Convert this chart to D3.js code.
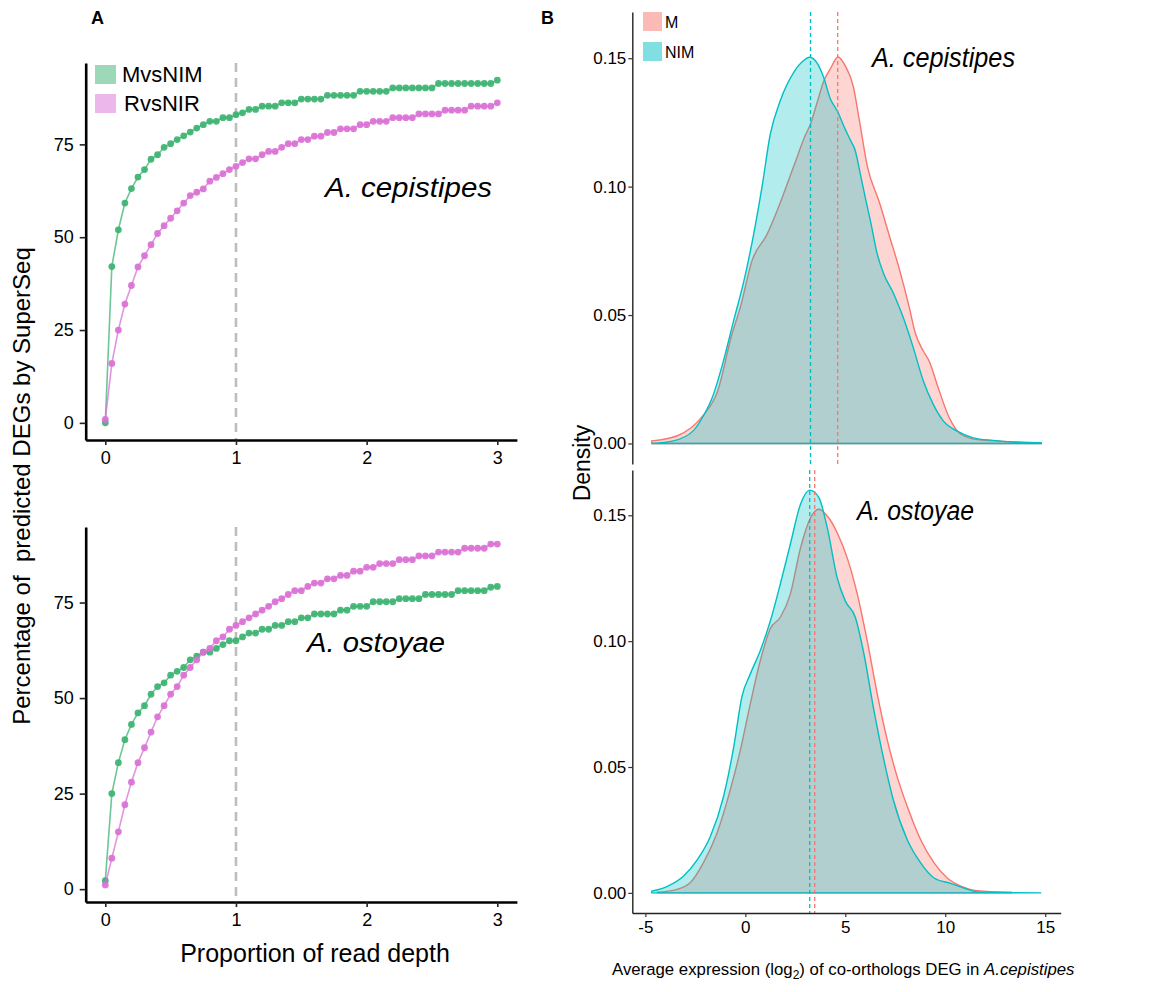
<!DOCTYPE html>
<html>
<head>
<meta charset="utf-8">
<script src="https://cdn.jsdelivr.net/npm/d3@7"></script>
<style>
  body { margin: 0; background: #fff; }
  text { font-family: "Liberation Sans", Arial, sans-serif; }
</style>
</head>
<body>
<svg id="chart" width="1171" height="992"></svg>
<script>
// ---- data: panel A (percentage of predicted DEGs vs proportion of read depth)
const depth = [0,0.05,0.1,0.15,0.2,0.25,0.3,0.35,0.4,0.45,0.5,0.55,0.6,0.65,0.7,0.75,0.8,0.85,0.9,0.95,
  1,1.05,1.1,1.15,1.2,1.25,1.3,1.35,1.4,1.45,1.5,1.55,1.6,1.65,1.7,1.75,1.8,1.85,1.9,1.95,
  2,2.05,2.1,2.15,2.2,2.25,2.3,2.35,2.4,2.45,2.5,2.55,2.6,2.65,2.7,2.75,2.8,2.85,2.9,2.95,3];

const cepMvsNIM = [0,42.1,52,59.2,63.1,66.2,68.2,71,72.2,74.2,75.2,76.3,77.3,78.3,79.4,80.3,81.2,81.2,82.2,82.2,
  83,83.5,84.4,84.4,85.3,85.3,85.3,86.2,86.2,86.2,87.2,87.2,87.2,87.2,88.2,88.2,88.2,88.2,88.2,89.3,
  89.3,89.3,89.3,89.3,90.2,90.2,90.2,90.2,90.2,90.2,90.2,91.4,91.4,91.4,91.4,91.4,91.4,91.4,91.4,91.4,92.3];
const cepRvsNIR = [0.9,16,25,32,37,42,45,48,51,53.1,55.1,57.1,59.2,61.2,62.1,63,65.1,66.1,67.1,68.2,
  69.1,70.1,71.1,71.1,72.2,73.1,73.1,74.2,75.2,75.2,76.3,76.3,77.2,77.2,78.2,78.2,79.2,79.2,79.2,80.3,
  80.3,81.2,81.2,81.2,82.2,82.2,82.2,82.2,83.2,83.2,83.2,83.2,84.2,84.2,84.2,84.2,85.3,85.3,85.3,85.3,86.2];
const ostMvsNIM = [2.2,25,33.1,39.1,43.1,46.1,48,51,53,54,56,57,58,60,61,62,62,63,64,65,
  65,66,67,67,68,68,69,69,70,70,71,71,72,72,72,72,73,73,74,74,
  74,75.2,75.2,75.2,75.2,76,76,76,76,77.1,77.1,77.1,77.1,77.1,78.1,78.1,78.1,78.1,78.1,79,79.2];
const ostRvsNIR = [1.1,8.1,15,22.1,28,33.1,37,41.1,45.1,48,51,53,56,58,60,62,63,65,66,68,
  69,70,71,72,73,74,75.2,76,77.1,78.1,78.1,79.2,80.1,80.1,81.2,81.2,82.1,82.1,83.2,83.2,
  84.2,84.2,85.2,85.2,85.2,86.2,86.2,86.2,87.2,87.2,87.2,88.2,88.2,88.2,88.2,89.2,89.2,89.2,89.2,90.3,90.3];

const depthTicks = [0, 1, 2, 3];
const pctTicks = [0, 25, 50, 75];
const seriesNames = ["MvsNIM", "RvsNIR"];

// ---- data: panel B (density of average expression), [x, density]
const cepM = [[-4.68,0.001],[-3.4,0.003],[-2.1,0.011],[-1.4,0.02],[-0.67,0.0425],[-0.25,0.053],[0.33,0.0711],
  [1.09,0.0815],[1.59,0.0906],[2.42,0.1079],[3.0,0.12],[3.26,0.1244],[3.6,0.133],[3.92,0.141],[4.26,0.146],
  [4.63,0.1505],[5.0,0.147],[5.4,0.139],[5.7,0.126],[6.1,0.108],[6.7,0.094],[7.2,0.081],[7.7,0.068],
  [8.2,0.053],[8.5,0.043],[8.9,0.036],[9.2,0.032],[9.6,0.0228],[10.2,0.01],[10.8,0.0035],[11.6,0.0015],
  [13.3,0.0007],[14.8,0.0003]];
const cepNIM = [[-4.68,0],[-3.6,0.001],[-2.6,0.005],[-2.1,0.0107],[-1.6,0.019],[-1.1,0.032],[-0.58,0.048],
  [-0.08,0.063],[0.33,0.078],[0.83,0.0997],[1.25,0.1205],[1.75,0.1335],[2.42,0.1445],[2.9,0.149],[3.22,0.1504],
  [3.6,0.148],[3.92,0.1425],[4.26,0.134],[4.6,0.1295],[4.93,0.1235],[5.26,0.118],[5.5,0.114],[5.75,0.105],
  [6.0,0.0957],[6.26,0.0866],[6.6,0.0737],[6.93,0.0659],[7.43,0.0581],[7.9,0.0490],[8.4,0.0373],
  [8.9,0.0244],[9.4,0.0152],[9.9,0.0088],[10.6,0.0048],[11.4,0.0022],[12.4,0.0012],[13.3,0.0006],[14.8,0.0003]];
const ostM = [[-4.4,0.0003],[-3.6,0.001],[-2.76,0.004],[-2.1,0.0119],[-1.42,0.0237],[-0.75,0.041],[-0.25,0.0567],
  [0.25,0.0752],[0.75,0.0923],[1.25,0.105],[1.75,0.1095],[2.25,0.1187],[2.76,0.137],[3.26,0.149],[3.68,0.1524],
  [4.1,0.1497],[4.6,0.143],[5.1,0.133],[5.6,0.1187],[6.1,0.1],[6.6,0.079],[7.1,0.0607],[7.6,0.046],
  [8.1,0.0343],[8.77,0.0211],[9.44,0.0119],[10.1,0.0059],[10.8,0.0026],[11.6,0.0009],[13.3,0.0003]];
const ostNIM = [[-4.68,0.0007],[-3.9,0.0026],[-3.1,0.0066],[-2.4,0.0132],[-1.75,0.0224],[-1.1,0.038],[-0.58,0.058],
  [-0.17,0.078],[0.25,0.087],[0.75,0.0963],[1.25,0.108],[1.75,0.1227],[2.25,0.1385],[2.76,0.1544],[3.22,0.16],
  [3.68,0.157],[4.1,0.145],[4.6,0.125],[5.0,0.116],[5.5,0.1095],[5.93,0.095],[6.43,0.0726],[6.93,0.0528],
  [7.4,0.037],[8.1,0.0211],[8.77,0.0119],[9.44,0.0059],[10.3,0.0037],[10.9,0.002],[11.6,0.0004],[13.0,0.0001],[14.8,0]];

const meanM = [4.62, 3.47];     // cepistipes, ostoyae
const meanNIM = [3.26, 3.22];
const exprTicks = [-5, 0, 5, 10, 15];
const densTicks = [0, 0.05, 0.10, 0.15];
const groupNames = ["M", "NIM"];

// ---- colours
const green = "#3CB371", pink = "#DA70D6";
const red = "#F8766D", cyan = "#00BFC4";

const svg = d3.select("#chart");

// ggplot-like 5% expansion
const expand = ext => { const s = ext[1] - ext[0]; return [ext[0] - 0.05 * s, ext[1] + 0.05 * s]; };
const plain = d => String(d);   // hyphen minus, no trailing decimals

// ================= panel A =================
const xL = d3.scaleLinear().domain(expand(d3.extent(depth))).range([85.7, 516.9]);

const leftPanels = [
  { top: 63, bottom: 440, m: cepMvsNIM, r: cepRvsNIR, label: "A. cepistipes", lx: 325, ly: 197, lw: 167 },
  { top: 527, bottom: 902, m: ostMvsNIM, r: ostRvsNIR, label: "A. ostoyae", lx: 307, ly: 652, lw: 138 }
];

leftPanels.forEach(p => {
  const y = d3.scaleLinear()
    .domain(expand(d3.extent(p.m.concat(p.r))))
    .range([p.bottom, p.top]);
  const g = svg.append("g");

  // dashed reference at full depth
  g.append("line")
    .attr("x1", xL(1)).attr("x2", xL(1))
    .attr("y1", p.top).attr("y2", p.bottom)
    .attr("stroke", "#bdbdbd").attr("stroke-width", 2.6)
    .attr("stroke-dasharray", "9,6");

  [[p.m, green], [p.r, pink]].forEach(([vals, col]) => {
    const pts = depth.map((d, i) => [d, vals[i]]);
    g.append("path")
      .datum(pts)
      .attr("fill", "none")
      .attr("stroke", col).attr("stroke-opacity", 0.75).attr("stroke-width", 1.6)
      .attr("d", d3.line().x(d => xL(d[0])).y(d => y(d[1])));
    g.selectAll(null).data(pts).enter().append("circle")
      .attr("cx", d => xL(d[0])).attr("cy", d => y(d[1]))
      .attr("r", 3.4).attr("fill", col).attr("fill-opacity", 0.92);
  });

  const ay = g.append("g").attr("transform", `translate(${xL.range()[0]},0)`)
    .call(d3.axisLeft(y).tickValues(pctTicks).tickFormat(plain).tickSize(6).tickPadding(6).tickSizeOuter(0));
  const ax = g.append("g").attr("transform", `translate(0,${p.bottom})`)
    .call(d3.axisBottom(xL).tickValues(depthTicks).tickFormat(plain).tickSize(5).tickPadding(6).tickSizeOuter(0));
  [ay, ax].forEach(a => {
    a.select(".domain").attr("stroke", "#000").attr("stroke-width", 2.6);
    a.selectAll(".tick line").attr("stroke", "#222").attr("stroke-width", 1.6);
    a.selectAll(".tick text").attr("font-size", 18).attr("fill", "#000")
      .attr("font-family", "Liberation Sans, Arial, sans-serif");
  });

  g.append("text")
    .attr("x", p.lx).attr("y", p.ly)
    .attr("font-size", 27).attr("font-style", "italic")
    .attr("textLength", p.lw).attr("lengthAdjust", "spacingAndGlyphs")
    .text(p.label);
});

// legend A
[[green, 65], [pink, 94]].forEach(([col, yy], i) => {
  svg.append("rect").attr("x", 95).attr("y", yy).attr("width", 21).attr("height", 19)
    .attr("fill", col).attr("fill-opacity", 0.5);
  svg.append("text").attr("x", i === 0 ? 122 : 124).attr("y", yy + 17)
    .attr("font-size", 22).text(seriesNames[i]);
});

svg.append("text")
  .attr("transform", "translate(30,486) rotate(-90)")
  .attr("text-anchor", "middle").attr("font-size", 24)
  .attr("xml:space", "preserve")
  .text("Percentage of  predicted DEGs by SuperSeq");

svg.append("text")
  .attr("x", 315).attr("y", 962).attr("text-anchor", "middle")
  .attr("font-size", 25).text("Proportion of read depth");

// ================= panel B =================
const allDens = cepM.concat(cepNIM, ostM, ostNIM);
const xR = d3.scaleLinear().domain(expand(d3.extent(allDens, d => d[0]))).range([632.3, 1060.7]);
const yDom = expand([0, d3.max(allDens, d => d[1])]);

const rightPanels = [
  { top: 12, bottom: 464, m: cepM, n: cepNIM, mm: meanM[0], mn: meanNIM[0], label: "A. cepistipes", lx: 872, ly: 67, lw: 143, xaxis: false },
  { top: 470, bottom: 913, m: ostM, n: ostNIM, mm: meanM[1], mn: meanNIM[1], label: "A. ostoyae", lx: 857, ly: 520, lw: 117, xaxis: true }
];

rightPanels.forEach(p => {
  const y = d3.scaleLinear().domain(yDom).range([p.bottom, p.top]);
  const g = svg.append("g");
  const area = d3.area()
    .x(d => xR(d[0])).y0(y(0)).y1(d => y(d[1]))
    .curve(d3.curveMonotoneX);

  [[p.m, red], [p.n, cyan]].forEach(([vals, col]) => {
    g.append("path").datum(vals)
      .attr("fill", col).attr("fill-opacity", 0.3)
      .attr("stroke", col).attr("stroke-width", 1.4)
      .attr("d", area);
  });

  [[p.mn, cyan], [p.mm, red]].forEach(([v, col]) => {
    g.append("line")
      .attr("x1", xR(v)).attr("x2", xR(v))
      .attr("y1", p.top).attr("y2", p.bottom)
      .attr("stroke", col).attr("stroke-width", 1.3)
      .attr("stroke-dasharray", "4,3");
  });

  const ay = g.append("g").attr("transform", `translate(${xR.range()[0]},0)`)
    .call(d3.axisLeft(y).tickValues(densTicks).tickFormat(d3.format(".2f"))
      .tickSize(4).tickPadding(2).tickSizeOuter(0));
  const axes = [ay];
  if (p.xaxis) {
    axes.push(g.append("g").attr("transform", `translate(0,${p.bottom})`)
      .call(d3.axisBottom(xR).tickValues(exprTicks).tickFormat(plain).tickSize(4).tickPadding(4).tickSizeOuter(0)));
  }
  axes.forEach(a => {
    a.select(".domain").attr("stroke", "#222").attr("stroke-width", 1.4);
    a.selectAll(".tick line").attr("stroke", "#333").attr("stroke-width", 1.2);
    a.selectAll(".tick text").attr("font-size", 17).attr("fill", "#000")
      .attr("font-family", "Liberation Sans, Arial, sans-serif");
  });

  g.append("text")
    .attr("x", p.lx).attr("y", p.ly)
    .attr("font-size", 27).attr("font-style", "italic")
    .attr("textLength", p.lw).attr("lengthAdjust", "spacingAndGlyphs")
    .text(p.label);
});

// legend B
[[red, 12], [cyan, 42]].forEach(([col, yy], i) => {
  svg.append("rect").attr("x", 643).attr("y", yy).attr("width", 19).attr("height", 19)
    .attr("fill", col).attr("fill-opacity", 0.5);
  svg.append("text").attr("x", 665).attr("y", yy + 16)
    .attr("font-size", 16).text(groupNames[i]);
});

svg.append("text")
  .attr("transform", "translate(590,463) rotate(-90)")
  .attr("text-anchor", "middle").attr("font-size", 23)
  .text("Density");

const xt = svg.append("text").attr("x", 612).attr("y", 975).attr("font-size", 16.8);
xt.append("tspan").text("Average expression (log");
xt.append("tspan").attr("font-size", 12).attr("dy", 4).text("2");
xt.append("tspan").attr("dy", -4).text(") of co-orthologs DEG in ");
xt.append("tspan").attr("font-style", "italic").text("A.cepistipes");

// panel letters
svg.append("text").attr("x", 91).attr("y", 24).attr("font-size", 18).attr("font-weight", "bold").text("A");
svg.append("text").attr("x", 541).attr("y", 24).attr("font-size", 18).attr("font-weight", "bold").text("B");
</script>
</body>
</html>
